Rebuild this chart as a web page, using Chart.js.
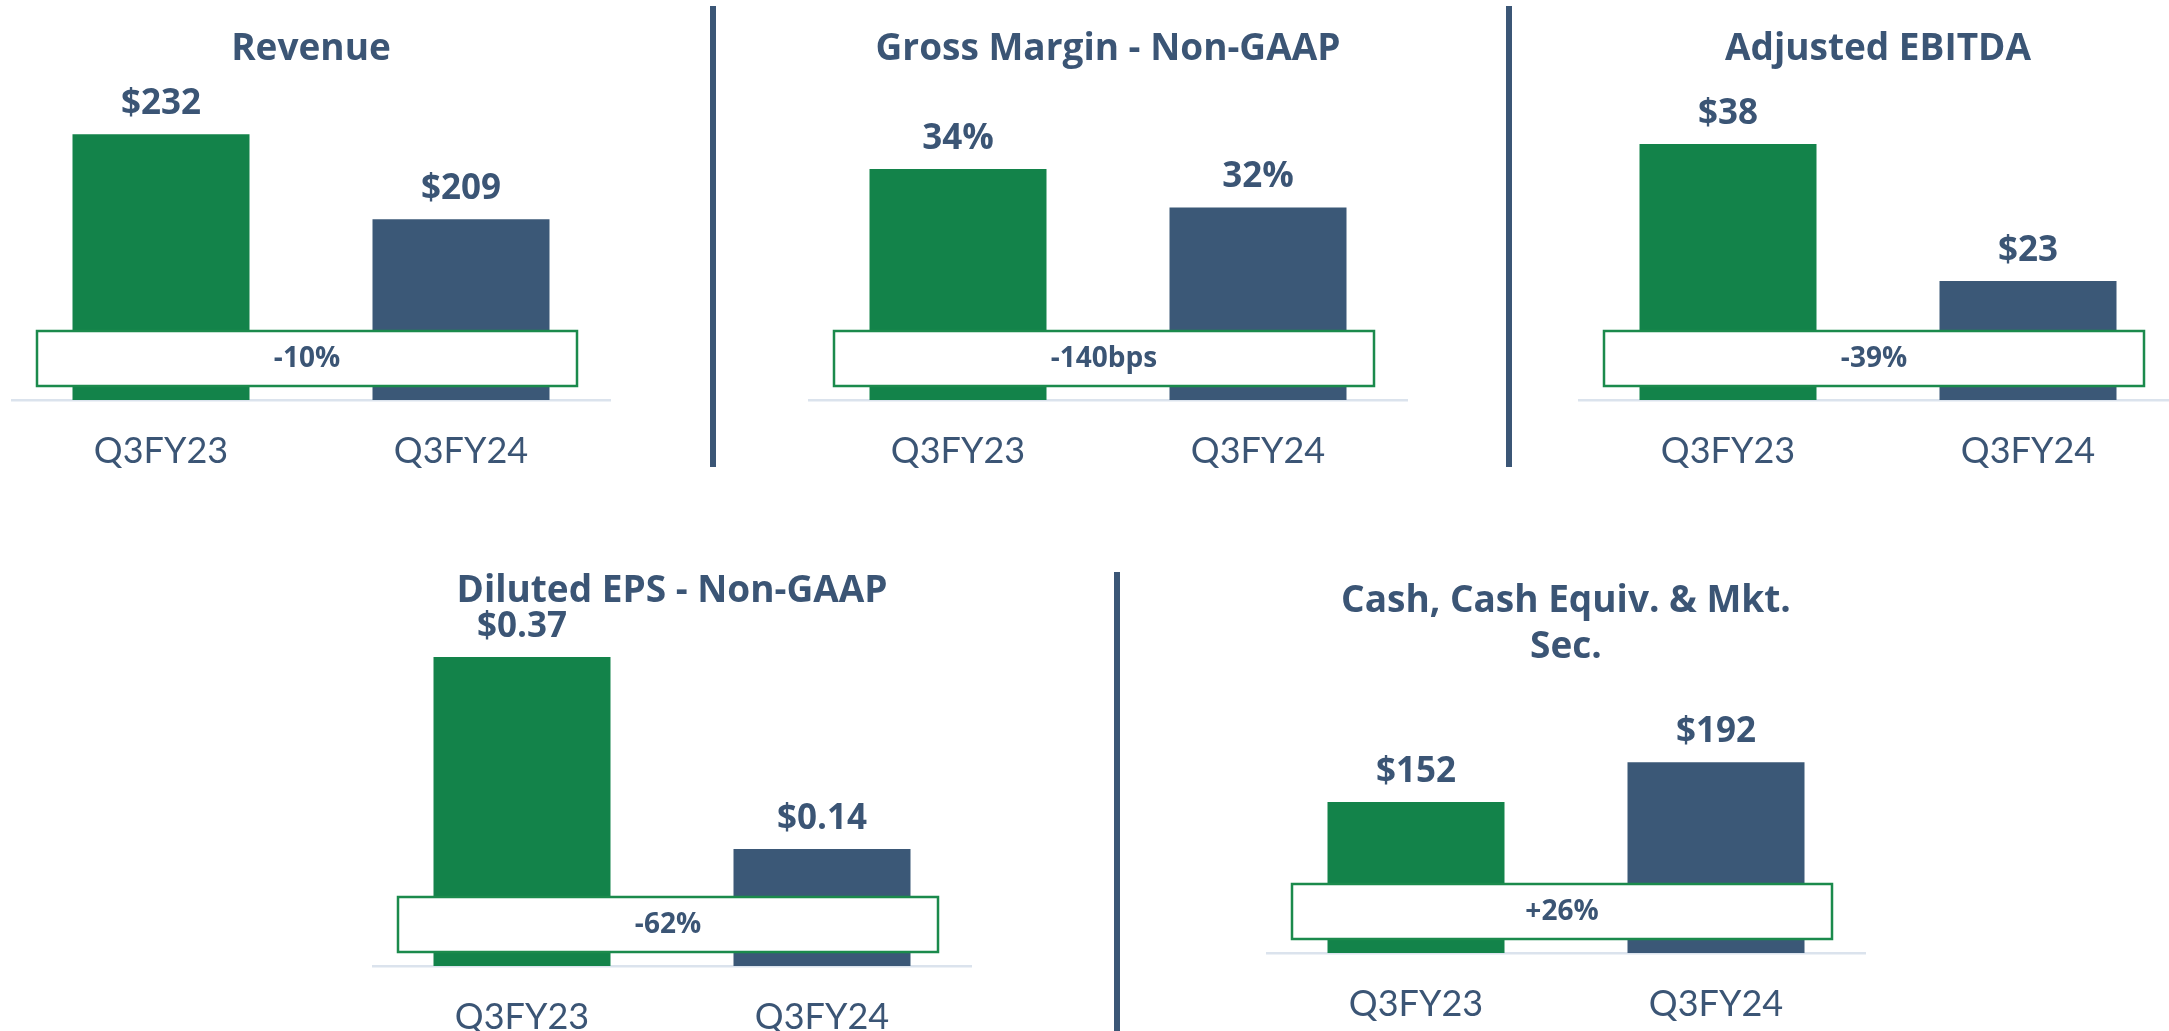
<!DOCTYPE html>
<html>
<head>
<meta charset="utf-8">
<script src="https://cdn.jsdelivr.net/npm/chart.js@4.4.0/dist/chart.umd.min.js"></script>
<style>
  html, body { margin: 0; padding: 0; background: #fff; }
  body { width: 2169px; height: 1031px; position: relative; overflow: hidden; }
  canvas { position: absolute; }
  .sep { position: absolute; width: 6px; background: #3b5676; }
</style>
</head>
<body>
<div class="sep" style="left:710px; top:6px; height:461px"></div>
<div class="sep" style="left:1506px; top:6px; height:461px"></div>
<div class="sep" style="left:1114px; top:572px; height:459px"></div>

<canvas id="c-revenue" width="600" height="480" style="left:11px; top:0px"></canvas>
<canvas id="c-margin" width="600" height="480" style="left:808px; top:0px"></canvas>
<canvas id="c-ebitda" width="600" height="480" style="left:1578px; top:0px"></canvas>
<canvas id="c-eps" width="600" height="491" style="left:372px; top:540px"></canvas>
<canvas id="c-cash" width="600" height="491" style="left:1266px; top:540px"></canvas>

<script>
// data
const periods = ["Q3FY23", "Q3FY24"];
const revenue = [232, 209];
const grossMargin = [34, 32];
const ebitda = [38, 23];
const eps = [0.37, 0.14];
const cash = [152, 192];
const changes = ["-10%", "-140bps", "-39%", "-62%", "+26%"];

const GREEN = "#13834a";
const NAVY = "#3b5877";
const TEXT = "#3b5575";

// value above each bar + the white change box near the baseline
const barLabels = {
  id: "barLabels",
  afterDatasetsDraw(chart, args, opts) {
    const ctx = chart.ctx;
    const meta = chart.getDatasetMeta(0);
    ctx.save();
    ctx.font = '700 35px "Open Sans"';
    ctx.fillStyle = TEXT;
    ctx.textAlign = "center";
    ctx.textBaseline = "alphabetic";
    meta.data.forEach((bar, i) => {
      ctx.fillText(opts.labels[i], bar.x, bar.y - 20);
    });

    const a = chart.chartArea;
    const w = 540, h = 55;
    const cx = (a.left + a.right) / 2 - 4;
    const top = a.bottom - 14 - h;
    ctx.fillStyle = "#fff";
    ctx.fillRect(cx - w / 2, top, w, h);
    ctx.strokeStyle = "#1b8a4c";
    ctx.lineWidth = 2.5;
    ctx.strokeRect(cx - w / 2, top, w, h);
    ctx.font = '700 28px "Open Sans"';
    ctx.fillStyle = TEXT;
    ctx.textBaseline = "middle";
    ctx.fillText(opts.change, cx, top + h / 2 + 1);
    ctx.restore();
  }
};

function makeChart(id, title, values, labels, change, yMin, yMax, pad, axisH) {
  return new Chart(document.getElementById(id), {
    type: "bar",
    data: {
      labels: periods,
      datasets: [{
        data: values,
        backgroundColor: [GREEN, NAVY],
        borderWidth: 0,
        barPercentage: 0.59,
        categoryPercentage: 1
      }]
    },
    options: {
      responsive: false,
      animation: false,
      layout: { padding: 0 },
      plugins: {
        legend: { display: false },
        tooltip: { enabled: false },
        title: {
          display: true,
          text: title,
          color: TEXT,
          font: { family: "Open Sans", size: 37, weight: "700", lineHeight: 46 / 37 },
          padding: { top: pad[0], bottom: pad[1] }
        },
        barLabels: { labels: labels, change: change }
      },
      scales: {
        x: {
          grid: { display: false },
          border: { display: true, color: "#dbe3ed", width: 2.5 },
          ticks: {
            color: TEXT,
            padding: 22,
            font: { family: "Lato", size: 36, weight: "400", lineHeight: 1.2 }
          },
          afterFit(scale) { scale.height = axisH; }
        },
        y: { display: false, min: yMin, max: yMax }
      }
    },
    plugins: [barLabels]
  });
}

makeChart("c-revenue", "Revenue", revenue,
  revenue.map(v => "$" + v), changes[0], 160, 244, [26, 18], 80);

makeChart("c-margin", "Gross Margin - Non-GAAP", grossMargin,
  grossMargin.map(v => v + "%"), changes[1], 22, 38.1, [26, 18], 80);

makeChart("c-ebitda", "Adjusted EBITDA", ebitda,
  ebitda.map(v => "$" + v), changes[2], 10, 43.9, [26, 18], 80);

makeChart("c-eps", "Diluted EPS - Non-GAAP", eps,
  eps.map(v => "$" + v.toFixed(2)), changes[3], 0, 0.4143, [28.5, 5.5], 65);

makeChart("c-cash", ["Cash, Cash Equiv. & Mkt.", "Sec."], cash,
  cash.map(v => "$" + v), changes[4], 0, 274.8, [38.5, 9.5], 78);
</script>
</body>
</html>
